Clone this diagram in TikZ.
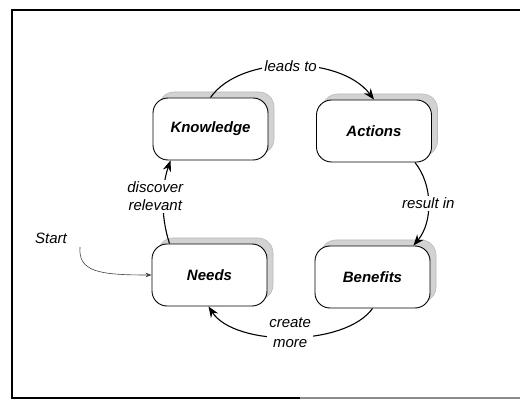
\documentclass[tikz,border=0pt]{standalone}
\usepackage{fontspec}
\setmainfont{Liberation Sans}
\usetikzlibrary{arrows.meta,shadows}
\begin{document}
\begin{tikzpicture}[x=1pt,y=-1pt,
  stagebox/.style={draw=black, line width=0.9pt, fill=white,
    rounded corners=15pt, minimum width=115pt, minimum height=62pt,
    font=\fontsize{15}{18}\selectfont\bfseries\itshape,
    copy shadow={shadow xshift=6pt, shadow yshift=6pt,
      fill=gray!35, draw=gray!55, line width=0.6pt}},
  flow/.style={line width=1.1pt, -{Stealth[length=11pt,width=8.5pt]}},
  flowlabel/.style={fill=white, inner sep=2pt, align=center,
    font=\fontsize{15}{18}\selectfont\itshape},
  startflow/.style={line width=0.6pt, draw=black!75, -{Stealth[length=6pt,width=4.5pt]}}]
  \useasboundingbox (0,0) rectangle (520,401);
  % frame
  \draw[line width=1.2pt] (521,10) -- (12,10) -- (12,398) -- (300,398);
  \draw[line width=1.2pt, black!45] (300,398) -- (521,398);

  % stages
  \node[stagebox] (knowledge) at (210.5,129) {Knowledge};
  \node[stagebox] (actions)   at (374,131)   {Actions};
  \node[stagebox] (needs)     at (209.5,275) {Needs};
  \node[stagebox] (benefits)  at (372.5,277) {Benefits};

  % start marker
  \node[font=\fontsize{15}{18}\selectfont\itshape] (start) at (51,238) {Start};
  \coordinate (startfoot) at (80,247);

  % cycle
  \draw[flow] (knowledge.north) .. controls (240,55) and (340,55) .. (actions.north)
    node[flowlabel, pos=0.5] {leads to};
  \draw[flow] ([xshift=-17pt]actions.south east) .. controls (433,185) and (433,222) .. ([xshift=-17pt]benefits.north east)
    node[flowlabel, pos=0.5] {result in};
  \draw[flow] (benefits.south) .. controls (345,347) and (235,347) .. ([xshift=-1pt]needs.south)
    node[flowlabel, pos=0.5, yshift=4pt, font=\fontsize{15}{20}\selectfont\itshape] {create\\more};
  \draw[flow] ([xshift=18pt]needs.north west) .. controls (160,215) and (162,185) .. ([xshift=18pt]knowledge.south west)
    node[flowlabel, pos=0.5, xshift=-8pt, yshift=4pt] {discover\\relevant};
  \draw[startflow] (startfoot) .. controls (78,272) and (100,275) .. (needs.west);
\end{tikzpicture}
\end{document}
